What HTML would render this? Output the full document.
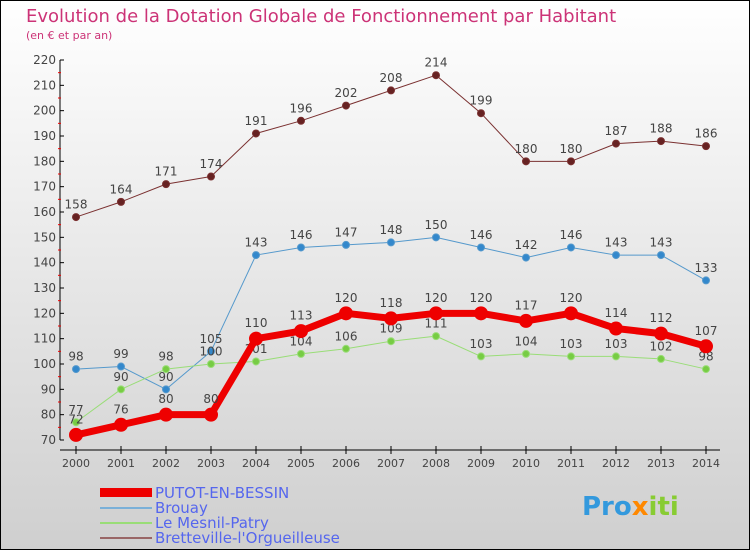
<!DOCTYPE html>
<html><head><meta charset="utf-8"><style>
body{margin:0}
svg text{font-family:"DejaVu Sans","Liberation Sans",sans-serif}
</style></head><body>
<svg width="750" height="550" xmlns="http://www.w3.org/2000/svg">
<defs><linearGradient id="bg" x1="0" y1="0" x2="0" y2="1"><stop offset="0" stop-color="#ffffff"/><stop offset="1" stop-color="#cfcfcf"/></linearGradient></defs>
<rect x="0.5" y="0.5" width="749" height="549" fill="url(#bg)" stroke="#000"/>
<text x="26" y="22" font-size="18" fill="#cc3377">Evolution de la Dotation Globale de Fonctionnement par Habitant</text>
<text x="26" y="39" font-size="11" fill="#cc3377">(en € et par an)</text>
<g id="axes"></g><g id="series"></g>
<g>
<rect x="100" y="488" width="52" height="9" fill="#ee0000"/>
<text x="155" y="498" font-size="15" fill="#5566ee">PUTOT-EN-BESSIN</text>
<rect x="100" y="507" width="52" height="2" fill="#7ab0d8"/>
<text x="155" y="513" font-size="15" fill="#5566ee">Brouay</text>
<rect x="100" y="522" width="52" height="2" fill="#99dd77"/>
<text x="155" y="528" font-size="15" fill="#5566ee">Le Mesnil-Patry</text>
<rect x="100" y="537" width="52" height="2" fill="#996666"/>
<text x="155" y="543" font-size="15" fill="#5566ee">Bretteville-l'Orgueilleuse</text>
</g>
<text x="582" y="515" font-size="26" font-weight="bold" fill="#3399dd">Pro<tspan fill="#ff8800">x</tspan><tspan fill="#88cc33">iti</tspan></text>
</svg>
<script>
const years=["2000","2001","2002","2003","2004","2005","2006","2007","2008","2009","2010","2011","2012","2013","2014"];
const yTicks=[70,80,90,100,110,120,130,140,150,160,170,180,190,200,210,220];
const putot=[72,76,80,80,110,113,120,118,120,120,117,120,114,112,107];
const brouay=[98,99,90,105,143,146,147,148,150,146,142,146,143,143,133];
const mesnil=[77,90,98,100,101,104,106,109,111,103,104,103,103,102,98];
const bretteville=[158,164,171,174,191,196,202,208,214,199,180,180,187,188,186];
const NS="http://www.w3.org/2000/svg";
const xs=i=>76+i*45;
const ys=v=>440-(v-70)*(380/150);
function mk(t,a,p){const e=document.createElementNS(NS,t);for(const k in a)e.setAttribute(k,a[k]);p.appendChild(e);return e;}
const ax=document.getElementById('axes');
let l=mk('line',{x1:60,y1:60,x2:60,y2:440,stroke:'#000'},ax);

l=mk('line',{x1:60,y1:450,x2:720,y2:450,stroke:'#000'},ax);

yTicks.forEach((v,i)=>{const y=ys(v);
 mk('line',{x1:60,y1:y,x2:64,y2:y,stroke:'#000'},ax);
 if(i<yTicks.length-1)mk('line',{x1:58,y1:ys(v+5),x2:61,y2:ys(v+5),stroke:'#e00'},ax);
 const t=mk('text',{x:56,y:y+4,'font-size':12,fill:'#444','text-anchor':'end'},ax);t.textContent=v;
 });
years.forEach((yr,i)=>{const x=xs(i);
 mk('line',{x1:x,y1:446,x2:x,y2:454,stroke:'#000'},ax);
 const t=mk('text',{x:x,y:467,'font-size':11,fill:'#444','text-anchor':'middle'},ax);t.textContent=yr;
 });
const sg=document.getElementById('series');
function series(name,data,color,dot,w,r,lab,above){
 const g=mk('g',{},sg);
 const pts=data.map((v,i)=>xs(i)+','+ys(v)).join(' ');
 mk('polyline',{points:pts,fill:'none',stroke:color,'stroke-width':w,'stroke-linejoin':'round'},g);
 data.forEach((v,i)=>{const c=mk('circle',{cx:xs(i),cy:ys(v),r:r,fill:dot,stroke:color,'stroke-width':1},g);
  
  const t=mk('text',{x:xs(i),y:ys(v)-(above?r+5:r+5),'font-size':12,fill:lab,'text-anchor':'middle'},g);t.textContent=v;
  });
}
series('bretteville',bretteville,'#7a3030','#662222',1,3.5,'#444',true);
series('brouay',brouay,'#5599cc','#3388cc',1,3.5,'#444',true);
series('mesnil',mesnil,'#99dd77','#77cc44',1,3.5,'#444',true);
series('putot',putot,'#ee0000','#ee0000',7,6.5,'#444',true);
</script>
</body></html>
